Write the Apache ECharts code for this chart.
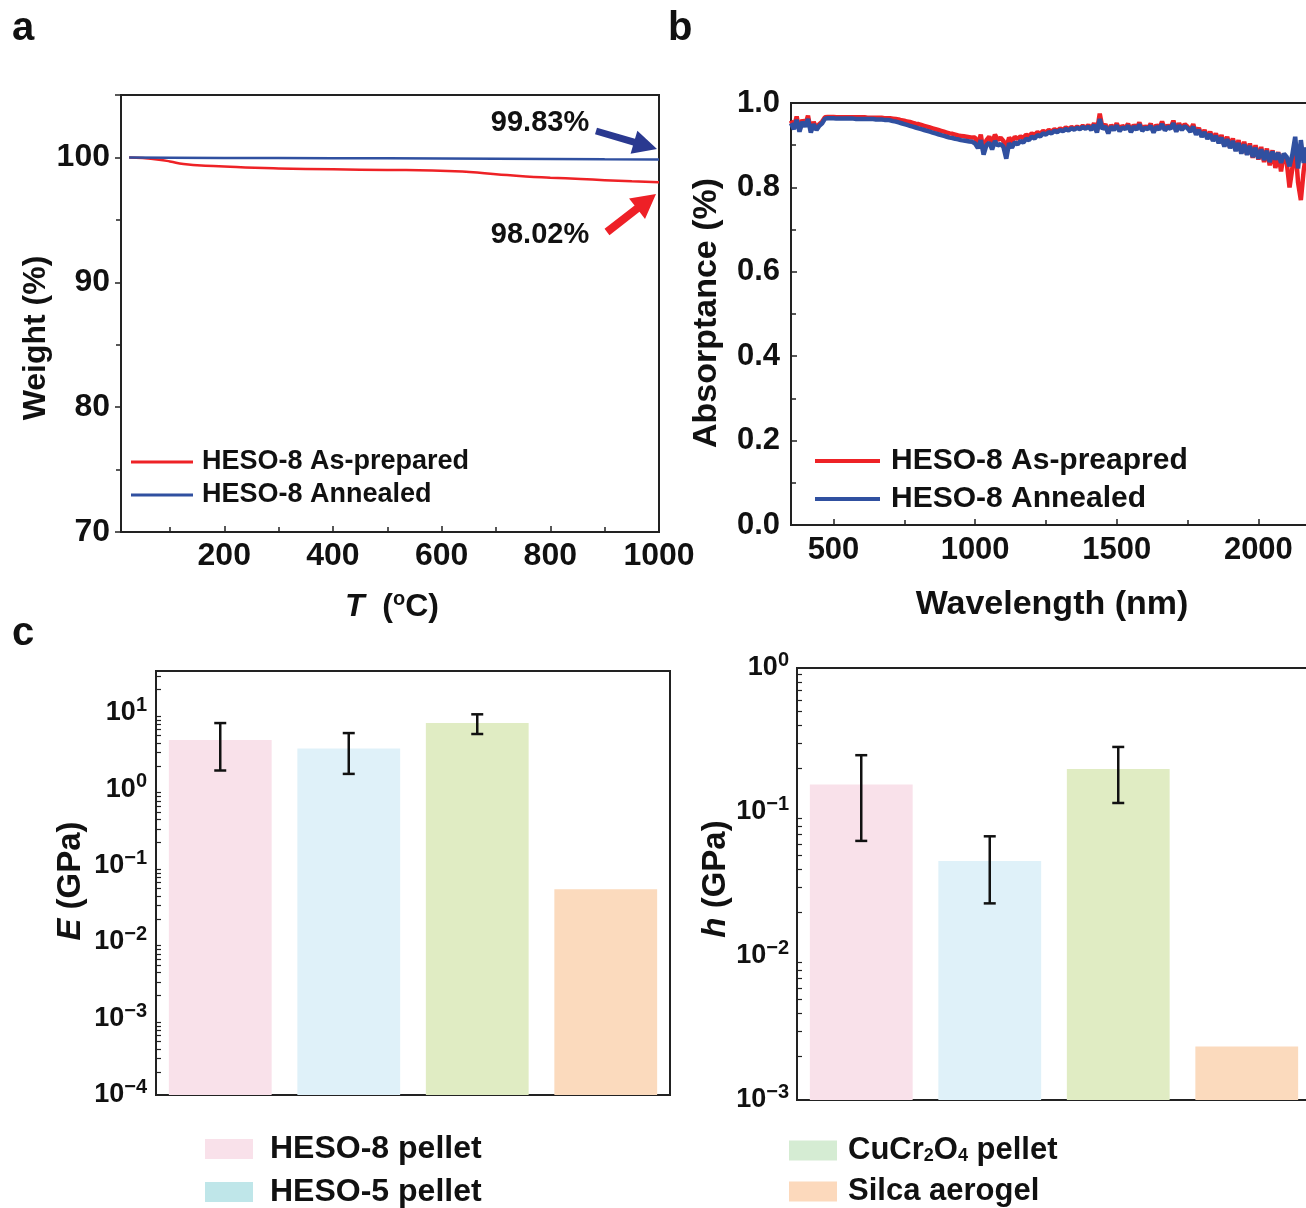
<!DOCTYPE html>
<html><head><meta charset="utf-8">
<script src="https://cdn.jsdelivr.net/npm/echarts@6/dist/echarts.min.js"></script>
<style>html,body{margin:0;padding:0;background:#fff}#c{width:1306px;height:1208px}</style>
</head><body><div id="c"></div>
<script>
// ---------- Panel a: TGA ----------
const tgaTempAsPrep = [25,50,80,100,125,150,200,256,300,400,500,583,651,700,755,800,856,900,950,1000];
const tgaAsPrep = [100.0,99.95,99.82,99.68,99.47,99.38,99.28,99.17,99.12,99.05,99.0,98.96,98.83,98.66,98.48,98.38,98.27,98.18,98.09,98.02];
const tgaTempAnneal = [25,100,200,300,400,500,600,700,800,900,1000];
const tgaAnneal = [100.0,99.98,99.96,99.95,99.94,99.93,99.92,99.9,99.88,99.85,99.83];
const tgaNames = ['HESO-8 As-prepared','HESO-8 Annealed'];

// ---------- Panel b: absorptance spectra (sampled every 10 nm from 350 nm) ----------
const wlStart = 350, wlStep = 10;
const absAsPrep = [
0.958,0.942,0.968,0.935,0.960,0.947,0.970,0.934,0.955,0.940,0.950,0.956,
0.966,0.967,0.967,0.967,0.966,0.966,0.966,0.966,0.966,0.966,0.966,0.966,0.966,0.966,0.966,0.965,0.965,0.965,0.965,0.965,0.965,0.964,0.964,
0.964,0.963,0.962,0.961,0.959,0.958,0.956,0.955,0.953,0.951,0.950,0.948,0.946,0.944,0.942,0.940,0.938,0.936,0.934,0.932,0.930,0.928,0.927,0.925,0.923,0.922,0.921,0.920,0.919,0.918,
0.918,0.902,0.925,0.884,0.912,0.920,0.905,0.925,0.912,0.918,0.910,0.895,0.918,0.908,0.920,
0.915,0.921,0.917,0.925,0.921,0.928,0.924,0.931,0.927,0.934,0.930,0.936,0.932,0.938,0.934,0.940,0.936,0.942,0.938,0.943,0.939,0.944,0.940,0.946,0.941,
0.948,0.938,0.952,0.933,0.975,0.940,0.950,0.930,0.948,0.938,0.952,0.935,0.946,0.940,0.951,0.933,0.948,0.939,0.954,0.936,0.945,0.940,0.951,0.932,0.948,0.939,0.956,0.937,0.947,0.941,0.958,0.934,0.952,0.938,0.950,
0.944,0.934,0.950,0.928,0.941,0.922,0.936,0.918,0.932,0.912,0.928,0.907,0.924,0.899,0.920,0.895,0.916,0.888,0.912,0.882,0.908,0.878,0.904,0.870,0.900,0.866,0.896,0.860,0.892,0.852,0.888,0.846,0.884,0.838,0.880,
0.860,0.800,0.845,0.905,0.812,0.770,0.840,0.885];
const absAnneal = [
0.952,0.938,0.960,0.932,0.955,0.944,0.962,0.930,0.950,0.936,0.946,0.952,
0.963,0.964,0.964,0.964,0.963,0.963,0.963,0.963,0.963,0.963,0.963,0.962,0.962,0.962,0.962,0.962,0.962,0.962,0.961,0.961,0.961,0.960,0.960,
0.959,0.957,0.956,0.954,0.952,0.950,0.948,0.946,0.944,0.942,0.940,0.938,0.936,0.934,0.932,0.930,0.928,0.926,0.924,0.922,0.920,0.918,0.917,0.915,0.914,0.912,0.911,0.910,0.909,0.908,
0.904,0.893,0.912,0.878,0.900,0.906,0.890,0.910,0.899,0.903,0.896,0.868,0.905,0.894,0.907,
0.902,0.910,0.906,0.915,0.912,0.920,0.916,0.924,0.921,0.928,0.925,0.931,0.928,0.934,0.931,0.936,0.933,0.938,0.935,0.940,0.937,0.941,0.938,0.943,0.939,
0.944,0.936,0.948,0.930,0.962,0.938,0.945,0.928,0.944,0.936,0.947,0.933,0.942,0.938,0.946,0.931,0.944,0.937,0.949,0.934,0.941,0.938,0.946,0.930,0.944,0.937,0.950,0.935,0.943,0.939,0.952,0.932,0.947,0.936,0.945,
0.940,0.932,0.944,0.925,0.936,0.920,0.931,0.915,0.926,0.910,0.922,0.905,0.918,0.897,0.914,0.893,0.910,0.886,0.905,0.880,0.902,0.877,0.898,0.872,0.894,0.868,0.890,0.865,0.887,0.860,0.885,0.866,0.882,0.858,0.880,
0.872,0.850,0.878,0.920,0.845,0.912,0.858,0.895];
const absNames = ['HESO-8 As-preapred','HESO-8 Annealed'];

// ---------- Panel c: mechanical properties ----------
const materials = ['HESO-8 pellet','HESO-5 pellet','CuCr₂O₄ pellet','Silca aerogel'];
const eValues = [4.4, 3.4, 7.3, 0.049];
const eErrLow = [1.75, 1.58, 5.25];
const eErrHigh = [7.3, 5.4, 9.5];
const hValues = [0.155, 0.0457, 0.199, 0.00235];
const hErrLow = [0.063, 0.0232, 0.1155];
const hErrHigh = [0.248, 0.0678, 0.283];

const barColors = ['#f9e1ea','#dff1f9','#e0ecc3','#fbdabd'];
const legendColors = ['#f9e1ea','#bfe6e9','#d5ecd3','#fcd9bc'];

const FF = '"Liberation Sans", Arial, Helvetica, sans-serif';
const INK = '#111';
const RED = '#ee2226', BLUE = '#3050a0';

const chart = echarts.init(document.getElementById('c'), null, {width:1306, height:1208, renderer:'canvas'});

function pairs(xs, ys){ return xs.map((x,i)=>[x, ys[i]]); }
function spectrum(vals){ return vals.map((v,i)=>[wlStart + i*wlStep, v]); }
function arrowPts(x1,y1,x2,y2,w,L,W){
  const dx=x2-x1, dy=y2-y1, len=Math.hypot(dx,dy);
  const ux=dx/len, uy=dy/len, nx=-uy, ny=ux;
  const bx=x2-ux*L, by=y2-uy*L;
  return [[x1+nx*w/2,y1+ny*w/2],[bx+nx*w/2,by+ny*w/2],[bx+nx*W/2,by+ny*W/2],[x2,y2],
          [bx-nx*W/2,by-ny*W/2],[bx-nx*w/2,by-ny*w/2],[x1-nx*w/2,y1-ny*w/2]];
}
const axisLineStyle = {show:true, lineStyle:{color:'#222', width:2}};
function logLabel(v){
  const e = Math.round(Math.log10(v));
  return '{b|10}{s|' + (e < 0 ? '\u2212' + (-e) : e) + '}';
}
function logRich(big, small){
  return {
    b:{fontSize:big, fontWeight:'bold', fontFamily:FF, color:INK, lineHeight:big+8},
    s:{fontSize:small, fontWeight:'bold', fontFamily:FF, color:INK, verticalAlign:'top', lineHeight:big+8}
  };
}
function errSeries(gridIdx, lows, highs){
  return {
    type:'custom', xAxisIndex:gridIdx, yAxisIndex:gridIdx, z:10,
    data: lows.map((lo,i)=>[i, lo, highs[i]]),
    encode:{x:0, y:[1,2]},
    renderItem:function(params, api){
      const pLo = api.coord([api.value(0), api.value(1)]);
      const pHi = api.coord([api.value(0), api.value(2)]);
      const hw = 6;
      const st = {stroke:'#111', lineWidth:2.5};
      return {type:'group', children:[
        {type:'line', shape:{x1:pLo[0], y1:pLo[1], x2:pHi[0], y2:pHi[1]}, style:st},
        {type:'line', shape:{x1:pLo[0]-hw, y1:pLo[1], x2:pLo[0]+hw, y2:pLo[1]}, style:st},
        {type:'line', shape:{x1:pHi[0]-hw, y1:pHi[1], x2:pHi[0]+hw, y2:pHi[1]}, style:st}
      ]};
    }
  };
}
function barSeries(gridIdx, values){
  return materials.map((m, k)=>({
    name:m, type:'bar', xAxisIndex:gridIdx, yAxisIndex:gridIdx,
    barWidth:'80%', barGap:'-100%',
    itemStyle:{color:barColors[k]},
    data: values.map((v,i)=> i===k ? v : '-')
  }));
}
function subFmt(name){ return name.replace('₂','{sub|2}').replace('₄','{sub|4}'); }
const plainNum = v => String(v);

const gridBase = {show:true, borderColor:'#222', borderWidth:2, backgroundColor:'transparent', outerBoundsMode:'none', containLabel:false};

const option = {
  backgroundColor:'#fff',
  animation:false,
  textStyle:{fontFamily:FF},
  grid:[
    Object.assign({left:121, top:95, width:538, height:437}, gridBase),
    Object.assign({left:791, top:103, width:609, height:422}, gridBase),
    Object.assign({left:156, top:671, width:514, height:424}, gridBase),
    Object.assign({left:797, top:668, width:514, height:432}, gridBase)
  ],
  xAxis:[
    {type:'value', gridIndex:0, min:10, max:1000, axisLine:axisLineStyle,
     axisTick:{inside:true, length:6, lineStyle:{color:'#222', width:1.5}},
     minorTick:{show:true, splitNumber:2, length:5, lineStyle:{color:'#222', width:1.5}},
     splitLine:{show:false},
     axisLabel:{showMinLabel:false, formatter:plainNum, fontSize:32, fontWeight:'bold', color:INK, margin:8, fontFamily:FF}},
    {type:'value', gridIndex:1, min:350, max:2500, axisLine:axisLineStyle,
     axisTick:{inside:true, length:6, lineStyle:{color:'#222', width:1.5}},
     minorTick:{show:true, splitNumber:2, length:5, lineStyle:{color:'#222', width:1.5}},
     splitLine:{show:false},
     axisLabel:{showMinLabel:false, formatter:plainNum, fontSize:31, fontWeight:'bold', color:INK, margin:10, fontFamily:FF}},
    {type:'category', gridIndex:2, data:materials, axisLine:axisLineStyle, axisTick:{show:false}, axisLabel:{show:false}},
    {type:'category', gridIndex:3, data:materials, axisLine:axisLineStyle, axisTick:{show:false}, axisLabel:{show:false}}
  ],
  yAxis:[
    {type:'value', gridIndex:0, min:70, max:105, interval:10, axisLine:axisLineStyle,
     axisTick:{inside:false, length:6, lineStyle:{color:'#222', width:1.5}},
     minorTick:{show:true, splitNumber:2, length:5, lineStyle:{color:'#222', width:1.5}},
     splitLine:{show:false},
     axisLabel:{showMaxLabel:false, formatter:plainNum, fontSize:32, fontWeight:'bold', color:INK, margin:11, fontFamily:FF}},
    {type:'value', gridIndex:1, min:0, max:1, interval:0.2, axisLine:axisLineStyle,
     axisTick:{inside:true, length:6, lineStyle:{color:'#222', width:1.5}},
     minorTick:{show:true, splitNumber:2, length:5, lineStyle:{color:'#222', width:1.5}},
     splitLine:{show:false},
     axisLabel:{formatter:v=>v.toFixed(1), fontSize:31, fontWeight:'bold', color:INK, margin:11, fontFamily:FF}},
    {type:'log', gridIndex:2, logBase:10, min:1e-4, max:35, startValue:1e-4, axisLine:axisLineStyle,
     axisTick:{inside:true, length:9, lineStyle:{color:'#222', width:1.5}},
     minorTick:{show:true, splitNumber:9, length:5, lineStyle:{color:'#222', width:1.2}},
     splitLine:{show:false},
     axisLabel:{showMaxLabel:false, formatter:logLabel, rich:logRich(27,20), margin:9}},
    {type:'log', gridIndex:3, logBase:10, min:1e-3, max:1, startValue:1e-3, axisLine:axisLineStyle,
     axisTick:{inside:true, length:9, lineStyle:{color:'#222', width:1.5}},
     minorTick:{show:true, splitNumber:9, length:5, lineStyle:{color:'#222', width:1.2}},
     splitLine:{show:false},
     axisLabel:{formatter:logLabel, rich:logRich(27,20), margin:8}}
  ],
  legend:[
    {left:131, top:447, padding:0, orient:'vertical', selectedMode:false, icon:'rect', itemWidth:62, itemHeight:3, itemGap:3,
     data:[{name:tgaNames[0], itemStyle:{color:RED}}, {name:tgaNames[1], itemStyle:{color:BLUE}}],
     textStyle:{fontSize:27, fontWeight:'bold', color:INK, fontFamily:FF, lineHeight:30, padding:[0,0,0,4]}},
    {left:815, top:446, padding:0, orient:'vertical', selectedMode:false, icon:'rect', itemWidth:65, itemHeight:4, itemGap:8,
     data:[{name:absNames[0], itemStyle:{color:RED}}, {name:absNames[1], itemStyle:{color:BLUE}}],
     textStyle:{fontSize:30, fontWeight:'bold', color:INK, fontFamily:FF, lineHeight:30, padding:[0,0,0,6]}},
    {left:205, top:1133, padding:0, orient:'vertical', selectedMode:false, icon:'rect', itemWidth:48, itemHeight:20, itemGap:11,
     data:[{name:materials[0], itemStyle:{color:legendColors[0]}}, {name:materials[1], itemStyle:{color:legendColors[1]}}],
     textStyle:{fontSize:32, fontWeight:'bold', color:INK, fontFamily:FF, lineHeight:30, padding:[0,0,0,12]}},
    {left:789, top:1135, padding:0, orient:'vertical', selectedMode:false, icon:'rect', itemWidth:48, itemHeight:20, itemGap:10,
     data:[{name:materials[2], itemStyle:{color:legendColors[2]}}, {name:materials[3], itemStyle:{color:legendColors[3]}}],
     formatter:subFmt,
     textStyle:{fontSize:31, fontWeight:'bold', color:INK, fontFamily:FF, lineHeight:30, padding:[0,0,0,6],
       rich:{sub:{fontSize:18, fontWeight:'bold', fontFamily:FF, color:INK, verticalAlign:'bottom', lineHeight:30}}}}
  ],
  series:[
    {name:tgaNames[0], type:'line', xAxisIndex:0, yAxisIndex:0, showSymbol:false, smooth:true,
     lineStyle:{color:RED, width:2.5}, itemStyle:{color:RED}, data:pairs(tgaTempAsPrep, tgaAsPrep)},
    {name:tgaNames[1], type:'line', xAxisIndex:0, yAxisIndex:0, showSymbol:false,
     lineStyle:{color:BLUE, width:2.5}, itemStyle:{color:BLUE}, data:pairs(tgaTempAnneal, tgaAnneal)},
    {name:absNames[0], type:'line', xAxisIndex:1, yAxisIndex:1, showSymbol:false, sampling:null,
     lineStyle:{color:RED, width:4.5}, itemStyle:{color:RED}, data:spectrum(absAsPrep)},
    {name:absNames[1], type:'line', xAxisIndex:1, yAxisIndex:1, showSymbol:false,
     lineStyle:{color:BLUE, width:4.5}, itemStyle:{color:BLUE}, data:spectrum(absAnneal)},
    ...barSeries(2, eValues),
    ...barSeries(3, hValues),
    errSeries(2, eErrLow, eErrHigh),
    errSeries(3, hErrLow, hErrHigh)
  ],
  graphic:[
    {type:'text', x:12, y:29, style:{text:'a', font:'bold 40px '+FF, fill:INK, align:'left', verticalAlign:'middle'}},
    {type:'text', x:668, y:29, style:{text:'b', font:'bold 40px '+FF, fill:INK, align:'left', verticalAlign:'middle'}},
    {type:'text', x:12, y:634, style:{text:'c', font:'bold 40px '+FF, fill:INK, align:'left', verticalAlign:'middle'}},
    {type:'text', x:36, y:338, rotation:Math.PI/2, style:{text:'Weight (%)', font:'bold 32px '+FF, fill:INK, align:'center', verticalAlign:'middle'}},
    {type:'text', x:392, y:607, style:{text:'{i|T}{n|  (}{s|o}{n|C)}', align:'center', verticalAlign:'middle',
      rich:{i:{fontSize:32, fontWeight:'bold', fontStyle:'italic', fontFamily:FF, fill:INK, lineHeight:36},
            n:{fontSize:32, fontWeight:'bold', fontFamily:FF, fill:INK, lineHeight:36},
            s:{fontSize:20, fontWeight:'bold', fontFamily:FF, fill:INK, lineHeight:36, verticalAlign:'top'}}}},
    {type:'text', x:707, y:313, rotation:Math.PI/2, style:{text:'Absorptance (%)', font:'bold 34px '+FF, fill:INK, align:'center', verticalAlign:'middle'}},
    {type:'text', x:1052, y:605, style:{text:'Wavelength (nm)', font:'bold 34px '+FF, fill:INK, align:'center', verticalAlign:'middle'}},
    {type:'text', x:71, y:881, rotation:Math.PI/2, style:{text:'{i|E}{n| (GPa)}', align:'center', verticalAlign:'middle',
      rich:{i:{fontSize:33, fontWeight:'bold', fontStyle:'italic', fontFamily:FF, fill:INK},
            n:{fontSize:33, fontWeight:'bold', fontFamily:FF, fill:INK}}}},
    {type:'text', x:716, y:879, rotation:Math.PI/2, style:{text:'{i|h}{n| (GPa)}', align:'center', verticalAlign:'middle',
      rich:{i:{fontSize:33, fontWeight:'bold', fontStyle:'italic', fontFamily:FF, fill:INK},
            n:{fontSize:33, fontWeight:'bold', fontFamily:FF, fill:INK}}}},
    {type:'text', x:540, y:123, style:{text:'99.83%', font:'bold 29px '+FF, fill:INK, align:'center', verticalAlign:'middle'}},
    {type:'text', x:540, y:235, style:{text:'98.02%', font:'bold 29px '+FF, fill:INK, align:'center', verticalAlign:'middle'}},
    {type:'polygon', shape:{points:arrowPts(596,131,657,149,7,24,24)}, style:{fill:'#2a3990'}},
    {type:'polygon', shape:{points:arrowPts(607,232,656,194,8,24,26)}, style:{fill:'#ee2027'}}
  ]
};
chart.setOption(option);
</script>
</body></html>
